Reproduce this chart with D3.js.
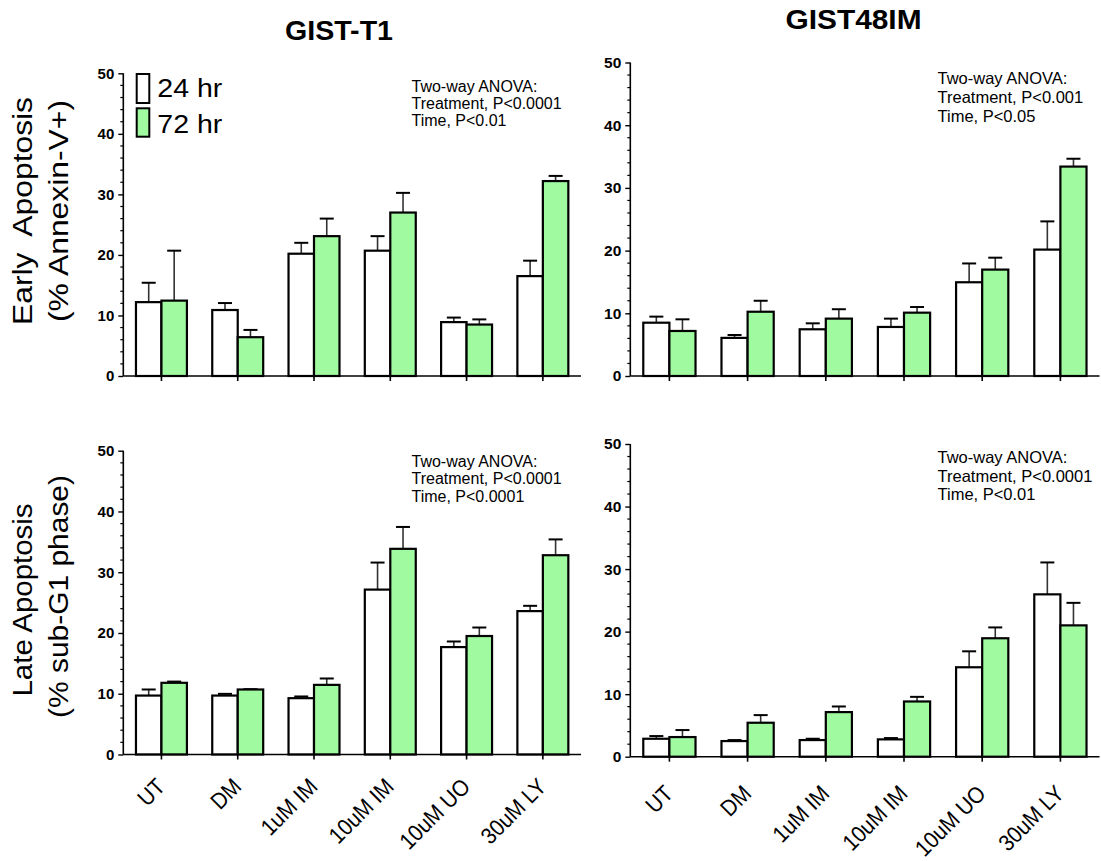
<!DOCTYPE html>
<html>
<head>
<meta charset="utf-8">
<script src="https://cdn.jsdelivr.net/npm/d3@7"></script>
<style>
  html, body { margin: 0; padding: 0; background: #fff; }
  svg { display: block; font-family: "Liberation Sans", Arial, Helvetica, sans-serif; }
  text { white-space: pre; }
</style>
</head>
<body>
<svg id="chart" width="1101" height="861"></svg>
<script>
// ---------------- data ----------------
const categories = ["UT", "DM", "1uM IM", "10uM IM", "10uM UO", "30uM LY"];
const series = ["24 hr", "72 hr"];
const yTicks = [0, 10, 20, 30, 40, 50];

// Early apoptosis, GIST-T1
const earlyT1_24 = [12.2, 10.9, 20.2, 20.7, 8.9, 16.5];
const earlyT1_24se = [3.2, 1.15, 1.8, 2.4, 0.75, 2.55];
const earlyT1_72 = [12.45, 6.41, 23.1, 27.0, 8.5, 32.2];
const earlyT1_72se = [8.25, 1.2, 2.9, 3.25, 0.85, 0.85];

// Early apoptosis, GIST48IM
const early48_24 = [8.5, 6.08, 7.45, 7.82, 14.95, 20.16];
const early48_24se = [0.97, 0.46, 0.95, 1.33, 3.0, 4.5];
const early48_72 = [7.18, 10.25, 9.15, 10.1, 16.97, 33.4];
const early48_72se = [1.86, 1.75, 1.5, 0.9, 1.9, 1.25];

// Late apoptosis, GIST-T1
const lateT1_24 = [9.7, 9.7, 9.27, 27.14, 17.68, 23.6];
const lateT1_24se = [1.0, 0.28, 0.28, 4.45, 0.92, 0.87];
const lateT1_72 = [11.8, 10.7, 11.46, 33.85, 19.5, 32.8];
const lateT1_72se = [0.2, 0.05, 1.05, 3.6, 1.4, 2.6];

// Late apoptosis, GIST48IM
const late48_24 = [2.87, 2.5, 2.66, 2.77, 14.3, 25.96];
const late48_24se = [0.43, 0.16, 0.21, 0.21, 2.55, 5.1];
const late48_72 = [3.14, 5.43, 7.13, 8.83, 18.94, 21.0];
const late48_72se = [1.12, 1.22, 0.9, 0.74, 1.73, 3.6];

const titles = ["GIST-T1", "GIST48IM"];
const annotT1early = ["Two-way ANOVA:", "Treatment, P<0.0001", "Time, P<0.01"];
const annot48early = ["Two-way ANOVA:", "Treatment, P<0.001", "Time, P<0.05"];
const annotT1late = ["Two-way ANOVA:", "Treatment, P<0.0001", "Time, P<0.0001"];
const annot48late = ["Two-way ANOVA:", "Treatment, P<0.0001", "Time, P<0.01"];

// ---------------- layout ----------------
const GREEN = "#a0fba0";
const svg = d3.select("#chart");

const panels = [
  { x0: 123.3, x1: 581, y0: 376, y50: 73.3, vals: [earlyT1_24, earlyT1_72], ses: [earlyT1_24se, earlyT1_72se],
    annot: annotT1early, ax: 411.5, ay: 92, lh: 17, afs: 16, tfs: 15, labels: false, legend: true },
  { x0: 630.3, x1: 1099.5, y0: 376, y50: 62.5, vals: [early48_24, early48_72], ses: [early48_24se, early48_72se],
    annot: annot48early, ax: 937.5, ay: 84, lh: 19, afs: 16.5, tfs: 15.5, labels: false, legend: false },
  { x0: 123.3, x1: 581, y0: 754.5, y50: 450.7, vals: [lateT1_24, lateT1_72], ses: [lateT1_24se, lateT1_72se],
    annot: annotT1late, ax: 411.5, ay: 466.5, lh: 17.5, afs: 16, tfs: 15, labels: true, ly: 788, legend: false },
  { x0: 630.3, x1: 1099.5, y0: 756.7, y50: 444, vals: [late48_24, late48_72], ses: [late48_24se, late48_72se],
    annot: annot48late, ax: 937.5, ay: 463, lh: 18.7, afs: 16.5, tfs: 15.5, labels: true, ly: 795, legend: false }
];

panels.forEach(p => {
  const g = svg.append("g");
  const x = d3.scaleBand().domain(categories).range([p.x0, p.x1]).paddingInner(0).paddingOuter(0);
  const step = x.bandwidth();
  const xs = d3.scaleBand().domain(series).range([step * 0.166, step * 0.834]).padding(0);
  const y = d3.scaleLinear().domain([0, 50]).range([p.y0, p.y50]);
  const bw = xs.bandwidth();

  // bars + error bars
  series.forEach((s, si) => {
    const vals = p.vals[si], ses = p.ses[si];
    const data = categories.map((c, i) => ({ c, v: vals[i], e: ses[i] }));
    const eg = g.append("g");
    eg.selectAll("line.ev").data(data).join("line")
      .attr("x1", d => x(d.c) + xs(s) + bw / 2)
      .attr("x2", d => x(d.c) + xs(s) + bw / 2)
      .attr("y1", d => y(d.v))
      .attr("y2", d => y(d.v + d.e))
      .attr("stroke", "#333").attr("stroke-width", 1.6);
    eg.selectAll("line.ec").data(data).join("line")
      .attr("x1", d => x(d.c) + xs(s) + bw / 2 - 7)
      .attr("x2", d => x(d.c) + xs(s) + bw / 2 + 7)
      .attr("y1", d => y(d.v + d.e))
      .attr("y2", d => y(d.v + d.e))
      .attr("stroke", "#000").attr("stroke-width", 2);
    g.append("g").selectAll("rect").data(data).join("rect")
      .attr("x", d => x(d.c) + xs(s))
      .attr("width", bw)
      .attr("y", d => y(d.v))
      .attr("height", d => y(0) - y(d.v))
      .attr("fill", si === 0 ? "#fff" : GREEN)
      .attr("stroke", "#000").attr("stroke-width", 2.2);
  });

  // y axis
  const yAxis = d3.axisLeft(y).tickValues(yTicks).tickSize(5).tickPadding(4).tickFormat(d3.format("d"));
  const ya = g.append("g").attr("transform", `translate(${p.x0},0)`).call(yAxis);
  ya.attr("font-family", null).attr("font-size", null);
  ya.select(".domain").attr("stroke", "#000").attr("stroke-width", 1.6).attr("d", `M0,${p.y0}V${p.y50}`);
  ya.selectAll(".tick line").attr("stroke", "#000").attr("stroke-width", 1.4);
  ya.selectAll(".tick text")
    .style("font-size", p.tfs + "px").style("font-weight", "700")
    .style("font-family", "'Liberation Sans', Arial, sans-serif").attr("fill", "#000");
  // minor ticks
  const minorVals = d3.range(0, 51, 2).filter(v => v % 10 !== 0);
  g.append("g").selectAll("line").data(minorVals).join("line")
    .attr("x1", p.x0 - 3).attr("x2", p.x0)
    .attr("y1", d => y(d)).attr("y2", d => y(d))
    .attr("stroke", "#000").attr("stroke-width", 1.2);

  // x axis
  const xAxis = d3.axisBottom(x).tickSize(5).tickFormat("");
  const xa = g.append("g").attr("transform", `translate(0,${p.y0})`).call(xAxis);
  xa.select(".domain").attr("stroke", "#000").attr("stroke-width", 1.6).attr("d", `M${p.x0},0H${p.x1}`);
  xa.selectAll(".tick line").attr("stroke", "#000").attr("stroke-width", 1.6);

  // category labels
  if (p.labels) {
    g.append("g").selectAll("text").data(categories).join("text")
      .attr("transform", d => `translate(${x(d) + step / 2 + 5},${p.ly}) rotate(-45) scale(0.9,1)`)
      .attr("text-anchor", "end")
      .attr("font-size", 23)
      .attr("fill", "#000")
      .text(d => d);
  }

  // annotation
  g.append("g").selectAll("text").data(p.annot).join("text")
    .attr("x", p.ax).attr("y", (d, i) => p.ay + i * p.lh)
    .attr("font-size", p.afs).attr("fill", "#000").text(d => d);

  // legend
  if (p.legend) {
    const lg = g.append("g");
    const boxes = [{ y: 74, h: 29, f: "#fff" }, { y: 108.3, h: 28.4, f: GREEN }];
    series.forEach((s, i) => {
      lg.append("rect").attr("x", 136.7).attr("y", boxes[i].y).attr("width", 12.6).attr("height", boxes[i].h)
        .attr("fill", boxes[i].f).attr("stroke", "#000").attr("stroke-width", 2);
      lg.append("text").attr("x", 157.3).attr("y", i === 0 ? 96.7 : 132.7)
        .attr("font-size", 26).attr("textLength", 65).attr("lengthAdjust", "spacingAndGlyphs")
        .attr("fill", "#000").text(s);
    });
  }
});

// titles
svg.append("text").attr("x", 339).attr("y", 40).attr("text-anchor", "middle")
  .attr("font-size", 27).attr("font-weight", "bold").attr("textLength", 108).attr("lengthAdjust", "spacingAndGlyphs")
  .text(titles[0]);
svg.append("text").attr("x", 853.5).attr("y", 29).attr("text-anchor", "middle")
  .attr("font-size", 27).attr("font-weight", "bold").attr("textLength", 136).attr("lengthAdjust", "spacingAndGlyphs")
  .text(titles[1]);

// y axis titles
const ylabels = [
  { t: "Early  Apoptosis", x: 32, y: 211, len: 228 },
  { t: "(% Annexin-V+)", x: 67.5, y: 211, len: 222 },
  { t: "Late Apoptosis", x: 32, y: 600, len: 193 },
  { t: "(% sub-G1 phase)", x: 67.5, y: 596.5, len: 243 }
];
svg.append("g").selectAll("text").data(ylabels).join("text")
  .attr("transform", d => `translate(${d.x},${d.y}) rotate(-90)`)
  .attr("text-anchor", "middle")
  .attr("font-size", 27)
  .attr("textLength", d => d.len).attr("lengthAdjust", "spacingAndGlyphs")
  .attr("fill", "#000")
  .text(d => d.t);
</script>
</body>
</html>
